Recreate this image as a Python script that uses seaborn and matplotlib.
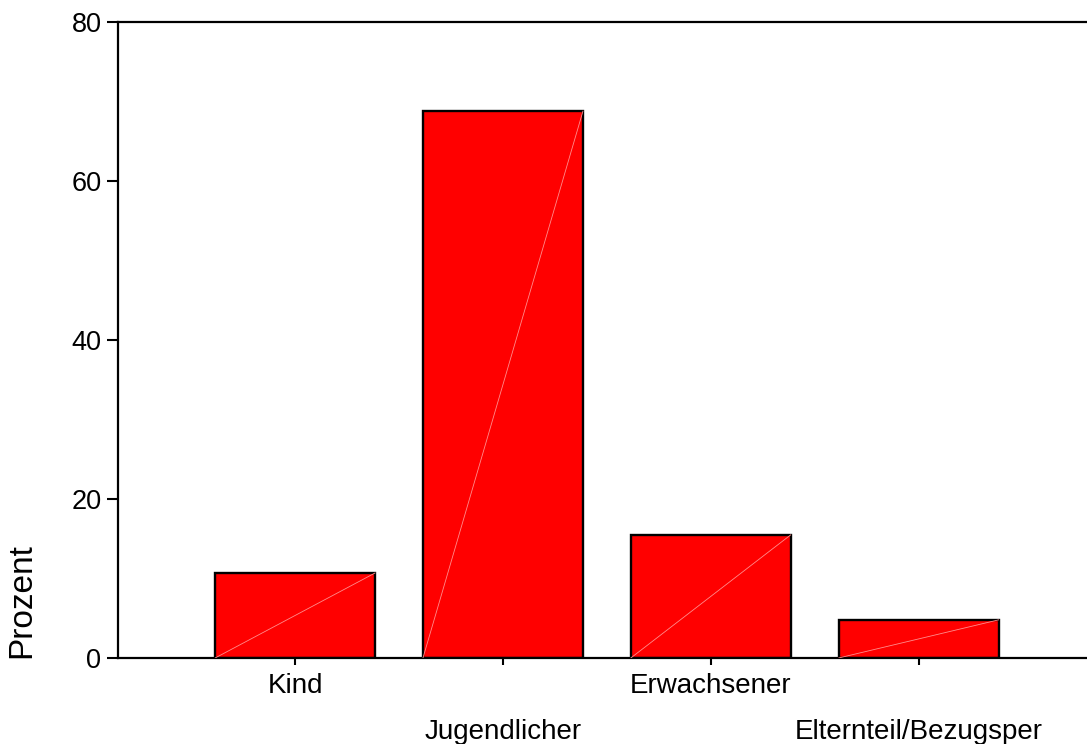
import seaborn as sns
import matplotlib.pyplot as plt

# Daten
kategorien = ["Kind", "Jugendlicher", "Erwachsener", "Elternteil/Bezugsper"]
prozent = [10.7, 68.8, 15.5, 4.8]
y_ticks = [0, 20, 40, 60, 80]

sns.set_theme(style="ticks")
plt.rcParams["font.family"] = ["Liberation Sans", "DejaVu Sans"]
plt.rcParams["text.color"] = "black"
plt.rcParams["axes.labelcolor"] = "black"
plt.rcParams["xtick.color"] = "black"
plt.rcParams["ytick.color"] = "black"

fig = plt.figure(figsize=(10.87, 7.44), dpi=100)
ax = fig.add_axes([0.1086, 0.1156, 0.8914, 0.8548])

sns.barplot(x=kategorien, y=prozent, order=kategorien, color="#ff0000",
            saturation=1, width=0.77, edgecolor="black", linewidth=1.7, ax=ax)

# feine Diagonalen wie im SPSS-Export
for p in ax.patches:
    x0, y0, w, h = p.get_x(), p.get_y(), p.get_width(), p.get_height()
    ax.plot([x0, x0 + w], [y0, y0 + h], color="#ff8c8c", lw=0.6, zorder=3)

ax.set_ylim(0, 80)
ax.set_yticks(y_ticks)
ax.set_xlim(-0.852, 3.81)

# versetzte Beschriftung
labels = [k if i % 2 == 0 else "\n" + k for i, k in enumerate(kategorien)]
ax.set_xticks(range(len(kategorien)))
ax.set_xticklabels(labels, fontsize=20, linespacing=1.98)
ax.tick_params(axis="y", labelsize=19.5, length=8, width=1.5, pad=4)
ax.tick_params(axis="x", length=5, width=1.5, pad=6)

for s in ["left", "bottom", "top"]:
    ax.spines[s].set_linewidth(1.6)
    ax.spines[s].set_color("black")
ax.spines["right"].set_visible(False)

ax.set_xlabel("")
ax.set_ylabel("Prozent", fontsize=24, loc="bottom")
ax.yaxis.set_label_coords(-0.083, 0)

fig.savefig("out.png", dpi=100)
